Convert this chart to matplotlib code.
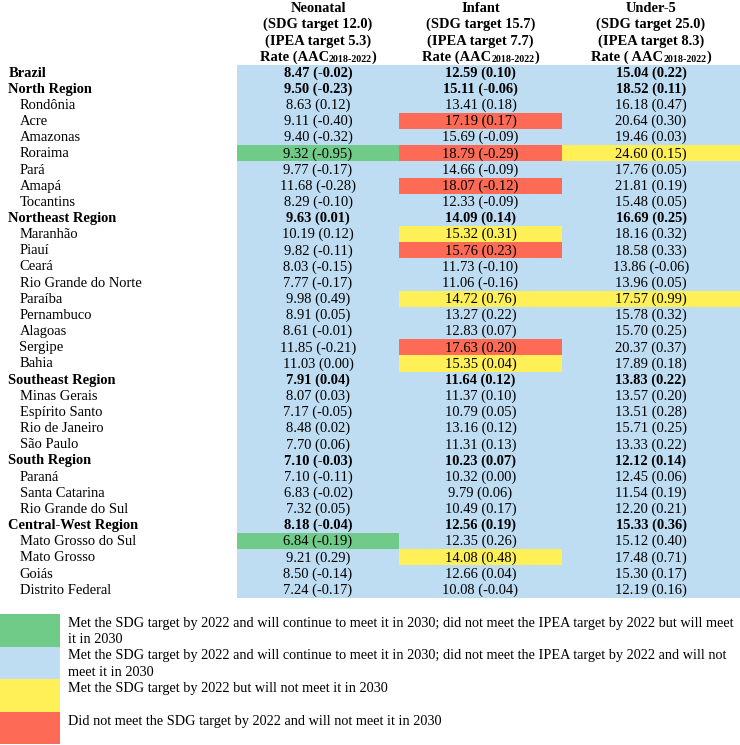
"""Under-5, infant and neonatal mortality table for Brazil, regions and states."""

import matplotlib

matplotlib.use("Agg")
import matplotlib.pyplot as plt

plt.rcParams["font.family"] = ["Liberation Serif", "DejaVu Serif"]

# ---- data -------------------------------------------------------------
locations = [
    "Brazil", "North Region", "Rondônia", "Acre", "Amazonas", "Roraima", "Pará",
    "Amapá", "Tocantins", "Northeast Region", "Maranhão", "Piauí", "Ceará",
    "Rio Grande do Norte", "Paraíba", "Pernambuco", "Alagoas", "Sergipe", "Bahia",
    "Southeast Region", "Minas Gerais", "Espírito Santo", "Rio de Janeiro",
    "São Paulo", "South Region", "Paraná", "Santa Catarina", "Rio Grande do Sul",
    "Central-West Region", "Mato Grosso do Sul", "Mato Grosso", "Goiás",
    "Distrito Federal",
]
is_aggregate = [
    True, True, False, False, False, False, False, False, False, True, False,
    False, False, False, False, False, False, False, False, True, False, False,
    False, False, True, False, False, False, True, False, False, False, False,
]

neonatal_rate = [8.47, 9.50, 8.63, 9.11, 9.40, 9.32, 9.77, 11.68, 8.29, 9.63, 10.19,
                 9.82, 8.03, 7.77, 9.98, 8.91, 8.61, 11.85, 11.03, 7.91, 8.07, 7.17,
                 8.48, 7.70, 7.10, 7.10, 6.83, 7.32, 8.18, 6.84, 9.21, 8.50, 7.24]
neonatal_aac = [-0.02, -0.23, 0.12, -0.40, -0.32, -0.95, -0.17, -0.28, -0.10, 0.01,
                0.12, -0.11, -0.15, -0.17, 0.49, 0.05, -0.01, -0.21, 0.00, 0.04,
                0.03, -0.05, 0.02, 0.06, -0.03, -0.11, -0.02, 0.05, -0.04, -0.19,
                0.29, -0.14, -0.17]
infant_rate = [12.59, 15.11, 13.41, 17.19, 15.69, 18.79, 14.66, 18.07, 12.33, 14.09,
               15.32, 15.76, 11.73, 11.06, 14.72, 13.27, 12.83, 17.63, 15.35, 11.64,
               11.37, 10.79, 13.16, 11.31, 10.23, 10.32, 9.79, 10.49, 12.56, 12.35,
               14.08, 12.66, 10.08]
infant_aac = [0.10, -0.06, 0.18, 0.17, -0.09, -0.29, -0.09, -0.12, -0.09, 0.14, 0.31,
              0.23, -0.10, -0.16, 0.76, 0.22, 0.07, 0.20, 0.04, 0.12, 0.10, 0.05,
              0.12, 0.13, 0.07, 0.00, 0.06, 0.17, 0.19, 0.26, 0.48, 0.04, -0.04]
under5_rate = [15.04, 18.52, 16.18, 20.64, 19.46, 24.60, 17.76, 21.81, 15.48, 16.69,
               18.16, 18.58, 13.86, 13.96, 17.57, 15.78, 15.70, 20.37, 17.89, 13.83,
               13.57, 13.51, 15.71, 13.33, 12.12, 12.45, 11.54, 12.20, 15.33, 15.12,
               17.48, 15.30, 12.19]
under5_aac = [0.22, 0.11, 0.47, 0.30, 0.03, 0.15, 0.05, 0.19, 0.05, 0.25, 0.32, 0.33,
              -0.06, 0.05, 0.99, 0.32, 0.25, 0.37, 0.18, 0.22, 0.20, 0.28, 0.25, 0.22,
              0.14, 0.06, 0.19, 0.21, 0.36, 0.40, 0.71, 0.17, 0.16]

# status per cell: G green, B blue, Y yellow, R red
neonatal_status = list("BBBBBGBBBBBBBBBBBBBBBBBBBBBBBGBBB")
infant_status = list("BBBRBRBRBBYRBBYBBRYBBBBBBBBBBBYBB")
under5_status = list("BBBBBYBBBBBBBBYBBBBBBBBBBBBBBBBBB")

column_titles = ["Neonatal", "Infant", "Under-5"]
sdg_targets = ["12.0", "15.7", "25.0"]
ipea_targets = ["5.3", "7.7", "8.3"]
rate_prefixes = ["Rate (AAC", "Rate (AAC", "Rate ( AAC"]
period_label = "2018-2022"

legend_codes = ["G", "B", "Y", "R"]
legend_texts = [
    "Met the SDG target by 2022 and will continue to meet it in 2030; did not meet "
    "the IPEA target by 2022 but will meet\nit in 2030",
    "Met the SDG target by 2022 and will continue to meet it in 2030; did not meet "
    "the IPEA target by 2022 and will not\nmeet it in 2030",
    "Met the SDG target by 2022 but will not meet it in 2030",
    "Did not meet the SDG target by 2022 and will not meet it in 2030",
]

STATUS_COLORS = {"G": "#71CB88", "B": "#BEDDF3", "Y": "#FFF057", "R": "#FD6B57"}

# ---- layout (pixel units) ---------------------------------------------
W, H = 740, 745
FS = 10.45
LEGEND_FS = 10.25
SUB_FS = 7.2
TABLE_TOP = 64.5
ROW_H = 16.16
COL_EDGES = [237, 399, 562, 740]
LEGEND_TOP = 614
LEGEND_H = 32.5
LINE_H = 16.2


def row_center(i):
    return TABLE_TOP + (i + 0.5) * ROW_H


fig = plt.figure(figsize=(W / 100, H / 100), dpi=100)
ax = fig.add_axes([0, 0, 1, 1])
ax.set_xlim(0, W)
ax.set_ylim(H, 0)
ax.axis("off")

columns = [
    (neonatal_rate, neonatal_aac, neonatal_status),
    (infant_rate, infant_aac, infant_status),
    (under5_rate, under5_aac, under5_status),
]
centers = [row_center(i) for i in range(len(locations))]

for c, (rates, aacs, status) in enumerate(columns):
    left, right = COL_EDGES[c], COL_EDGES[c + 1]
    ax.barh(centers, right - left, left=left, height=ROW_H,
            color=[STATUS_COLORS[s] for s in status], linewidth=0)
    xc = (left + right) / 2
    for i, (r, a) in enumerate(zip(rates, aacs)):
        ax.text(xc, centers[i] + 0.5, f"{r:.2f} ({a:.2f})", ha="center", va="center",
                fontsize=FS, fontweight="bold" if is_aggregate[i] else "normal")

for i, name in enumerate(locations):
    x = 8.5 if is_aggregate[i] else 19.5
    ax.text(x, centers[i] + 0.5, name, ha="left", va="center", fontsize=FS,
            fontweight="bold" if is_aggregate[i] else "normal")

# ---- header -----------------------------------------------------------
renderer = fig.canvas.get_renderer()


def text_width(s, size):
    t = ax.text(0, 0, s, fontsize=size, fontweight="bold")
    w = t.get_window_extent(renderer).width
    t.remove()
    return w


header_y = [TABLE_TOP - ROW_H * (3.5 - k) + 0.5 for k in range(4)]
for c in range(3):
    xc = (COL_EDGES[c] + COL_EDGES[c + 1]) / 2
    lines = [column_titles[c], f"(SDG target {sdg_targets[c]})",
             f"(IPEA target {ipea_targets[c]})"]
    for k, line in enumerate(lines):
        ax.text(xc, header_y[k], line, ha="center", va="center", fontsize=FS,
                fontweight="bold")
    pieces = [(rate_prefixes[c], FS, 0), (period_label, SUB_FS, 2.5), (")", FS, 0)]
    widths = [text_width(s, sz) for s, sz, _ in pieces]
    x = xc - sum(widths) / 2
    for (s, sz, dy), w in zip(pieces, widths):
        ax.text(x, header_y[3] + dy, s, ha="left", va="center", fontsize=sz,
                fontweight="bold")
        x += w

# ---- legend -----------------------------------------------------------
legend_centers = [LEGEND_TOP + (k + 0.5) * LEGEND_H for k in range(4)]
ax.barh(legend_centers, 60, left=0, height=LEGEND_H,
        color=[STATUS_COLORS[s] for s in legend_codes], linewidth=0)
for k, txt in enumerate(legend_texts):
    for j, line in enumerate(txt.split("\n")):
        ax.text(68, LEGEND_TOP + 9.5 + j * LINE_H + k * LEGEND_H, line, ha="left",
                va="center", fontsize=LEGEND_FS)

fig.savefig("out.png", dpi=100)
plt.close(fig)
